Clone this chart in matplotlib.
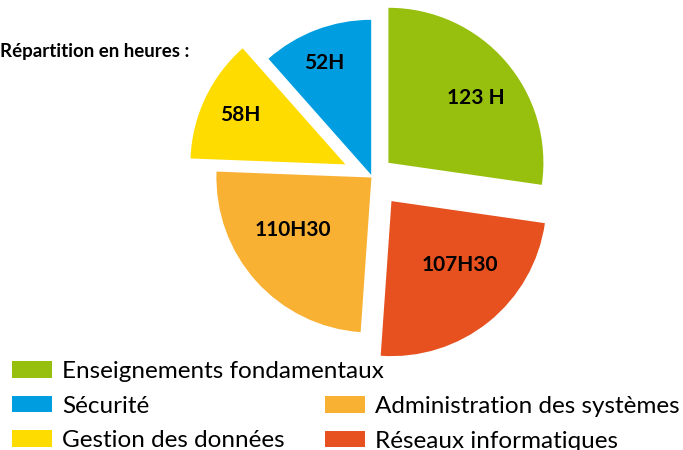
import matplotlib.pyplot as plt
import numpy as np

# heures par module
categories = ["Enseignements fondamentaux", "Réseaux informatiques",
              "Administration des systèmes", "Gestion des données", "Sécurité"]
hours = [123, 107.5, 110.5, 58, 52]
value_labels = ["123 H", "107H30", "110H30", "58H", "52H"]
colors = ["#97BF0D", "#E6511F", "#F8B133", "#FFDC00", "#009EE0"]
explode = [0.14, 0.2, 0.005, 0.19, 0.015]
label_dist = [0.70, 0.60, 0.61, 0.75, 0.78]
label_shift = [-4.5, 8, -8.5, 0, 2]  # degres

plt.rcParams['font.family'] = ['Lato', 'DejaVu Sans']

fig = plt.figure(figsize=(6.83, 4.5), dpi=100)
ax = fig.add_axes([0, 0, 1, 1])

wedges, _ = ax.pie(hours, colors=colors, explode=explode, startangle=90,
                   counterclock=False, radius=1,
                   wedgeprops=dict(linewidth=0))

# 1 unite = 155 px, centre du camembert a (372, 177) px
ax.set_xlim(-372 / 155, (683 - 372) / 155)
ax.set_ylim(-(450 - 177) / 155, 177 / 155)
ax.set_aspect('auto')
ax.axis('off')

for w, lab, d, s in zip(wedges, value_labels, label_dist, label_shift):
    mid = np.deg2rad((w.theta1 + w.theta2) / 2 + s)
    cx, cy = w.center
    ax.text(cx + d * np.cos(mid), cy + d * np.sin(mid), lab,
            ha='center', va='center', fontsize=15, fontweight='bold')

fig.text(0.0, 1 - 52 / 450, "Répartition en heures :", fontsize=13.5,
         fontweight='bold', ha='left', va='center')

# legende en deux colonnes
left = [wedges[0], wedges[4], wedges[3]]
right = [wedges[2], wedges[1]]
kw = dict(frameon=False, fontsize=17.5, handlelength=1.65, handleheight=0.66,
          handletextpad=0.41, labelspacing=0.56, borderpad=0, borderaxespad=0)
leg1 = fig.legend(left, [categories[0], categories[4], categories[3]],
                  loc='upper left', bbox_to_anchor=(12 / 683, 1 - 361 / 450), **kw)
leg2 = fig.legend(right, [categories[2], categories[1]],
                  loc='upper left', bbox_to_anchor=(325 / 683, 1 - 396 / 450), **kw)

fig.savefig("out.png", dpi=100)
